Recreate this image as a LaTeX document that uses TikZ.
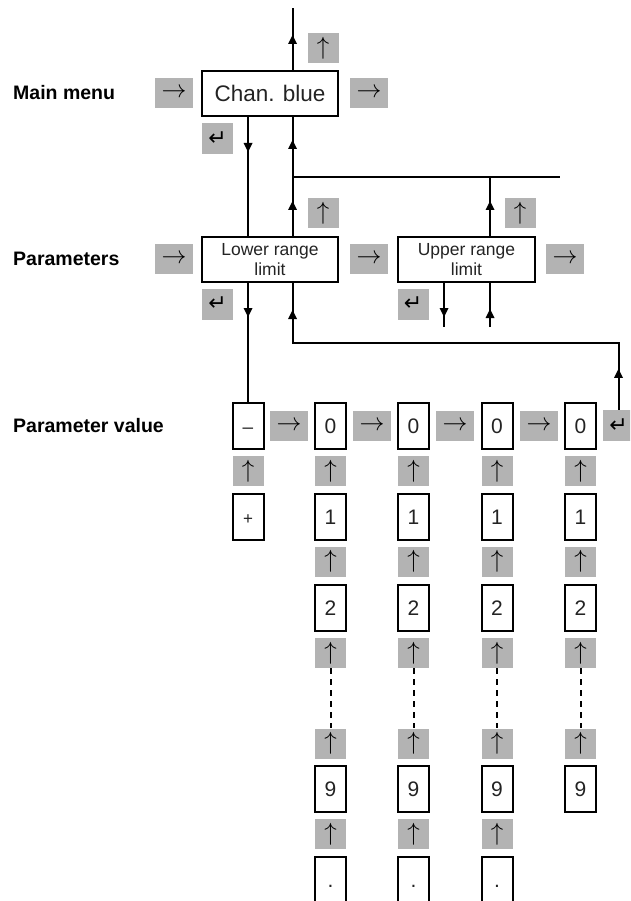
\documentclass[tikz,border=0pt]{standalone}
\usepackage{fontspec}
\setmainfont{Liberation Sans}
\newfontfamily\symfont{DejaVu Sans}
\usetikzlibrary{arrows.meta,decorations.markings,calc}
\definecolor{keygray}{RGB}{179,179,179}
\definecolor{txt}{RGB}{35,35,35}
\begin{document}
\begin{tikzpicture}[x=1pt,y=-1pt,
  conn/.style={line width=2pt},
  tipat/.style={postaction={decorate,decoration={markings,mark=at position #1 with {\fill (1pt,0pt) -- (-8pt,4.5pt) -- (-8pt,-4.5pt) -- cycle;}}}},
  menubox/.style={draw, line width=2pt, minimum width=136pt, minimum height=45pt, inner sep=0pt, align=center, text=txt},
  valbox/.style={draw, line width=2pt, minimum width=31pt, minimum height=46pt, inner sep=0pt, text=txt, text height=15pt, text depth=0pt, font=\fontsize{21}{21}\selectfont},
  keyh/.style={fill=keygray, minimum width=38pt, minimum height=30pt, inner sep=0pt, font=\fontsize{24}{24}\selectfont},
  keyv/.style={fill=keygray, minimum width=31pt, minimum height=30pt, inner sep=0pt, font=\fontsize{23}{23}\selectfont},
  keyret/.style={fill=keygray, minimum width=31pt, minimum height=31pt, inner sep=0pt, font=\symfont\fontsize{22}{22}\selectfont},
  lbl/.style={anchor=west, inner sep=0pt, font=\bfseries\fontsize{19.5}{19.5}\selectfont},
  dotline/.style={line width=2pt, dash pattern=on 6pt off 5pt},
]
\useasboundingbox (0,0) rectangle (630,901);
\clip (0,0) rectangle (630,901);

% row labels
\node[lbl] (lmain) at (13,93) {Main menu};
\node[lbl] (lpar) at (13,259) {Parameters};
\node[lbl] (lval) at (13,426) {Parameter value};

% menu boxes
\node[menubox, font=\fontsize{22.5}{22.5}\selectfont] (main) at (270,93.5) {Chan. blue};
\node[menubox, font=\fontsize{17.5}{19.5}\selectfont] (lower) at (270,259.5) {Lower range\\limit};
\node[menubox, minimum width=137pt, font=\fontsize{17.5}{19.5}\selectfont] (upper) at (466.5,259.5) {Upper range\\limit};

% keys, main menu row
\node[keyh] (mL) at (174,93) {$\rightarrow$};
\node[keyh] (mR) at (369,93) {$\rightarrow$};
\node[keyv] (mU) at (323,48) {$\uparrow$};
\node[keyret] (mE) at (217.5,138.5) {↵};

% keys, parameter row
\node[keyh] (pL) at (174,259) {$\rightarrow$};
\node[keyh] (pM) at (369,259) {$\rightarrow$};
\node[keyh] (pR) at (565,259) {$\rightarrow$};
\node[keyv] (lU) at (323,213.5) {$\uparrow$};
\node[keyv] (uU) at (520,213.5) {$\uparrow$};
\node[keyret] (lE) at (217.5,304) {↵};
\node[keyret] (uE) at (413,304) {↵};

% value row
\node[valbox, font=\fontsize{19}{19}\selectfont] (sgn) at (248,426) {–};
\node[keyv] (sgnU) at (248,471) {$\uparrow$};
\node[valbox, font=\fontsize{17}{17}\selectfont] (sgnP) at (248,516.5) {+};
\node[keyh] (k1) at (289,425.5) {$\rightarrow$};
\node[keyh] (k2) at (372,425.5) {$\rightarrow$};
\node[keyh] (k3) at (455,425.5) {$\rightarrow$};
\node[keyh] (k4) at (539,425.5) {$\rightarrow$};
\node[keyret] (ret) at (618.5,425.5) {↵};

\foreach \i/\x in {1/330.5,2/413.5,3/497,4/580.5}{
  \node[valbox] (c\i r0) at (\x,426) {0};
  \node[keyv] (c\i u1) at (\x,471) {$\uparrow$};
  \node[valbox] (c\i r1) at (\x,516.5) {1};
  \node[keyv] (c\i u2) at (\x,561.5) {$\uparrow$};
  \node[valbox] (c\i r2) at (\x,607.5) {2};
  \node[keyv] (c\i u3) at (\x,653) {$\uparrow$};
  \node[keyv] (c\i u4) at (\x,743.5) {$\uparrow$};
  \draw[dotline] (c\i u3.south) -- (c\i u4.north);
  \node[valbox] (c\i r9) at (\x,789) {9};
}
\foreach \i/\x in {1/330.5,2/413.5,3/497}{
  \node[keyv] (c\i u5) at (\x,834) {$\uparrow$};
  \node[valbox] (c\i rp) at (\x,880) {.};
}

% coordinates for free ends and junctions
\coordinate (topend) at (292.5,8);
\coordinate (j1) at (292.5,177);
\coordinate (hend) at (560,177);
\coordinate (j2) at (292.5,343);
\coordinate (uN) at ([xshift=23.5pt]upper.north);
\coordinate (udEnd) at (444,327);
\coordinate (uuEnd) at (490,327);

% connectors
\draw[conn, tipat=34pt] ([xshift=22.5pt]main.north) -- (topend);
\draw[conn, tipat=34pt] ([xshift=-22pt]main.south) -- ([xshift=-22pt]lower.north);
\draw[conn, tipat=34pt, tipat=95pt] ([xshift=22.5pt]lower.north) -- ([xshift=22.5pt]main.south);
\draw[conn] (j1) -- (hend);
\draw[conn, tipat=34pt] (uN) -- (uN |- j1);
\draw[conn, tipat=33pt] ([xshift=-22pt]lower.south) -- (sgn.north);
\draw[conn, tipat=40pt, tipat=-28pt] (ret.north) |- (j2) -- ([xshift=22.5pt]lower.south);
\draw[conn, tipat=33pt] ([xshift=-22.5pt]upper.south) -- (udEnd);
\draw[conn, tipat=17pt] (uuEnd) -- ([xshift=23.5pt]upper.south);
\end{tikzpicture}
\end{document}
